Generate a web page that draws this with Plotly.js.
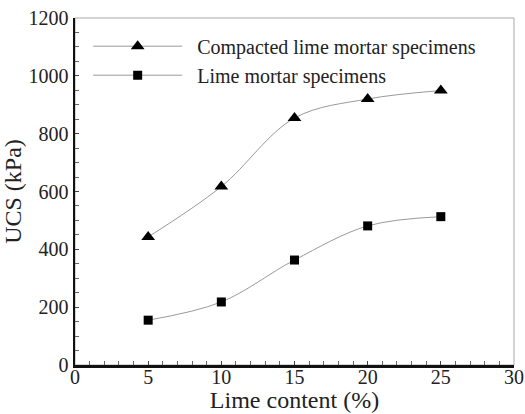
<!DOCTYPE html>
<html><head><meta charset="utf-8">
<script src="https://cdn.plot.ly/plotly-3.0.1.min.js"></script>
<style>body{margin:0;background:#fff}#chart{width:525px;height:414px}</style>
</head><body><div id="chart"></div>
<script>
const limeContent = [5, 10, 15, 20, 25];
const compactedUCS = [443, 617, 854, 920, 949];
const mortarUCS = [155, 218, 363, 481, 513];
const seriesNames = ['Compacted lime mortar specimens', 'Lime mortar specimens'];

const font = 'Liberation Serif';
const pad = '\u00a0\u00a0';
const traces = [
  {x: limeContent, y: compactedUCS, name: pad + seriesNames[0], mode: 'lines+markers',
   line: {shape: 'spline', smoothing: 1, color: '#9a9a9a', width: 1},
   marker: {symbol: 'triangle-up', size: 12, color: '#000'}},
  {x: limeContent, y: mortarUCS, name: pad + seriesNames[1], mode: 'lines+markers',
   line: {shape: 'spline', smoothing: 1, color: '#9a9a9a', width: 1},
   marker: {symbol: 'square', size: 9, color: '#000'}}
];
const layout = {
  width: 525, height: 414,
  margin: {l: 75, r: 11, t: 18, b: 49},
  paper_bgcolor: '#fff', plot_bgcolor: '#fff',
  font: {family: font, color: '#222'},
  showlegend: true,
  legend: {x: 0.03, y: 0.975, xanchor: 'left', yanchor: 'top', itemwidth: 89,
           font: {family: font, size: 20, color: '#222'}, bgcolor: 'rgba(0,0,0,0)',
           tracegroupgap: 0, itemclick: false},
  xaxis: {range: [0, 30], dtick: 5, tick0: 0, showgrid: false, zeroline: false,
          showline: true, linecolor: '#111', linewidth: 2.5,
          ticks: 'inside', ticklen: 4, tickcolor: '#444', tickwidth: 1,
          minor: {dtick: 1, ticks: 'inside', ticklen: 4, tickcolor: '#666', tickwidth: 1},
          tickfont: {family: font, size: 20, color: '#222'}, ticklabelstandoff: -8,
          title: {text: 'Lime content (%)', font: {family: font, size: 24, color: '#222'}, standoff: 0}},
  yaxis: {range: [0, 1200], dtick: 200, tick0: 0, showgrid: false, zeroline: false,
          showline: true, linecolor: '#111', linewidth: 2.5,
          ticks: 'inside', ticklen: 4, tickcolor: '#444', tickwidth: 1,
          minor: {dtick: 50, ticks: 'inside', ticklen: 4, tickcolor: '#666', tickwidth: 1},
          tickfont: {family: font, size: 20, color: '#222'},
          title: {text: 'UCS (kPa)', font: {family: font, size: 24, color: '#222'}}},
  shapes: [{type: 'rect', xref: 'paper', yref: 'paper', x0: 0, x1: 1, y0: 0, y1: 1,
            line: {color: '#aaa', width: 1}, layer: 'below'}]
};
Plotly.newPlot('chart', traces, layout, {displayModeBar: false, staticPlot: true});
</script></body></html>
